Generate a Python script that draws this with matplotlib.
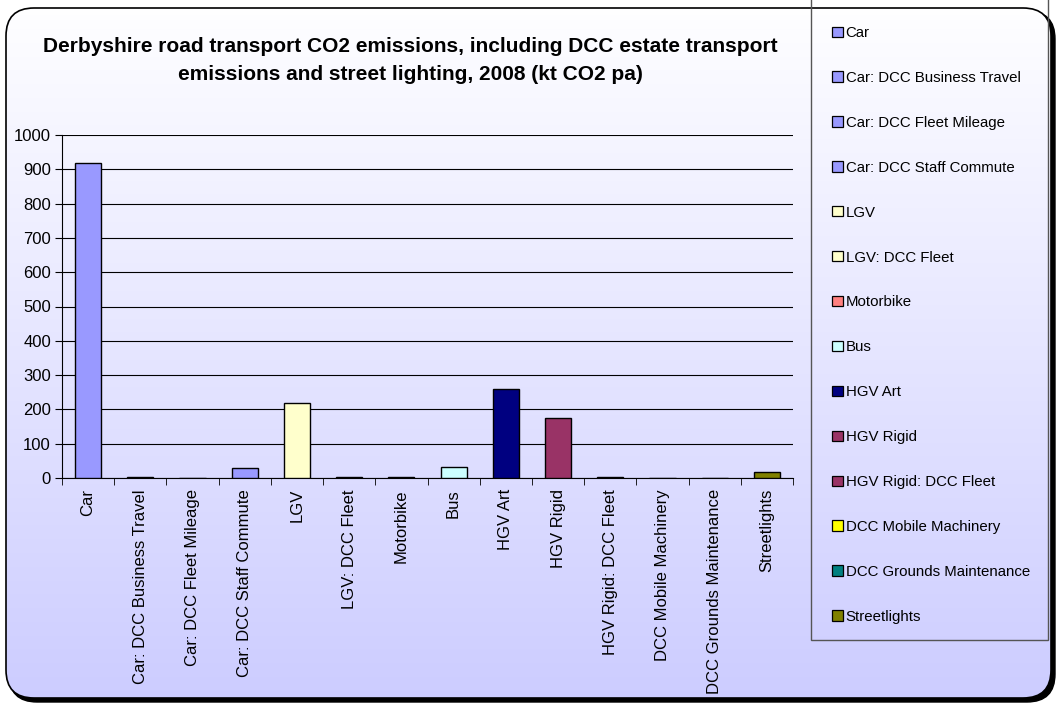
import numpy as np
import matplotlib.pyplot as plt
from matplotlib.patches import FancyBboxPatch, Patch, Rectangle
from matplotlib.colors import LinearSegmentedColormap

plt.rcParams['font.family'] = ['Liberation Sans', 'DejaVu Sans']

categories = ['Car', 'Car: DCC Business Travel', 'Car: DCC Fleet Mileage',
              'Car: DCC Staff Commute', 'LGV', 'LGV: DCC Fleet', 'Motorbike',
              'Bus', 'HGV Art', 'HGV Rigid', 'HGV Rigid: DCC Fleet',
              'DCC Mobile Machinery', 'DCC Grounds Maintenance', 'Streetlights']
values = [917, 4, 0, 29, 218, 4, 4, 32, 259, 176, 4, 0, 0, 17]
colors = ['#9999FF', '#9999FF', '#9999FF', '#9999FF', '#FFFFCC', '#FFFFCC',
          '#FF8080', '#CCFFFF', '#000080', '#993366', '#993366', '#FFFF00',
          '#008080', '#808000']
legend_labels = ['Car', 'Car: DCC Business Travel', 'Car: DCC Fleet Mileage',
                 'Car: DCC Staff Commute', 'LGV', 'LGV: DCC Fleet', 'Motorbike',
                 'Bus', 'HGV Art', 'HGV Rigid', 'HGV Rigid: DCC Fleet',
                 'DCC Mobile Machinery', 'DCC Grounds Maintenance', 'Streetlights']

W, H = 1061, 706
fig = plt.figure(figsize=(W / 100, H / 100), dpi=100)
fig.patch.set_facecolor('white')

# background: rounded frame with shadow and a white-to-lavender gradient
bg = fig.add_axes([0, 0, 1, 1], zorder=0)
bg.set_xlim(0, W)
bg.set_ylim(H, 0)
bg.axis('off')
shadow = FancyBboxPatch((9, 11), 1046, 691, boxstyle='round,pad=0,rounding_size=28',
                        fc='black', ec='black', lw=1)
bg.add_patch(shadow)
frame = FancyBboxPatch((6, 8), 1045, 690, boxstyle='round,pad=0,rounding_size=28',
                       fc='none', ec='black', lw=1.2, zorder=3)
bg.add_patch(frame)
cmap = LinearSegmentedColormap.from_list('bg', ['#FFFFFF', '#CCCCFF'])
grad = np.linspace(0, 1, 256).reshape(-1, 1)
im = bg.imshow(grad, extent=(0, W, H, 0), aspect='auto', cmap=cmap, zorder=2)
im.set_clip_path(frame)
# legend box outline
bg.add_patch(Rectangle((811, -2), 237, 642, fc='none', ec='#555555', lw=1, zorder=4))

# title
fig.text(410 / W, 1 - 47 / H, 'Derbyshire road transport CO2 emissions, including DCC estate transport',
         ha='center', va='center', fontsize=15, fontweight='bold')
fig.text(410 / W, 1 - 75 / H, 'emissions and street lighting, 2008 (kt CO2 pa)',
         ha='center', va='center', fontsize=15, fontweight='bold')

# main plot
ax = fig.add_axes([62 / W, 1 - 478 / H, (793 - 62) / W, (478 - 135) / H], zorder=2)
ax.patch.set_visible(False)
x = np.arange(len(categories))
ax.bar(x, values, width=0.5, color=colors, edgecolor='black', linewidth=1, zorder=3)
ax.set_xlim(-0.5, len(categories) - 0.5)
ax.set_ylim(0, 1000)
ax.set_yticks(np.arange(0, 1001, 100))
ax.yaxis.grid(True, color='black', linewidth=0.8)
ax.set_axisbelow(True)
ax.set_xticks(x)
ax.set_xticklabels(categories, rotation=90, fontsize=12)
ax.set_xticks(np.arange(-0.5, len(categories), 1), minor=True)
ax.tick_params(axis='x', which='major', length=0, pad=8)
ax.tick_params(axis='x', which='minor', length=5, direction='out', color='black')
ax.tick_params(axis='y', length=5, direction='out', labelsize=12, pad=3)
ax.spines['top'].set_visible(False)
ax.spines['right'].set_visible(False)

# legend
handles = [Patch(facecolor=c, edgecolor='black', linewidth=0.9) for c in colors]
leg = fig.legend(handles, legend_labels, loc='upper left',
                 bbox_to_anchor=(832 / W, 1 - 26 / H),
                 borderaxespad=0, borderpad=0, fontsize=10.8, frameon=False,
                 labelspacing=2.06, handlelength=0.75, handleheight=0.68,
                 handletextpad=0.15)
leg.set_zorder(5)

fig.savefig('out.png', dpi=100)
